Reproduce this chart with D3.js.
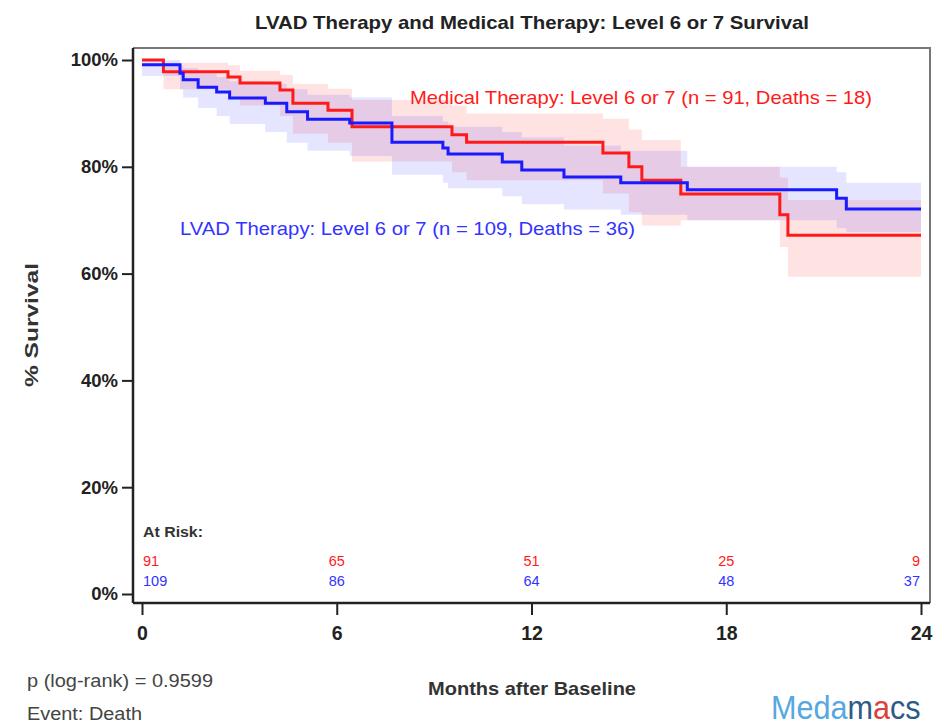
<!DOCTYPE html>
<html>
<head>
<meta charset="utf-8">
<script src="https://cdn.jsdelivr.net/npm/d3@7"></script>
<style>
  html, body { margin: 0; padding: 0; background: #fff; }
  svg { display: block; font-family: "Liberation Sans", Arial, sans-serif; }
</style>
</head>
<body>
<svg id="chart" width="944" height="726"></svg>
<script>
// Kaplan-Meier estimates (months after baseline) with 95% confidence limits
const medTimes  = [0, 0.66, 2.65, 3.02, 4.25, 4.65, 5.73, 6.47, 9.55, 10.0, 14.2, 15.0, 15.4, 16.6, 19.65, 19.9];
const medSurv   = [1.0, 0.978, 0.968, 0.957, 0.944, 0.919, 0.906, 0.875, 0.860, 0.846, 0.826, 0.800, 0.775, 0.749, 0.710, 0.672];
const medLower  = [1.0, 0.945, 0.930, 0.915, 0.895, 0.862, 0.845, 0.810, 0.790, 0.775, 0.750, 0.715, 0.690, 0.700, 0.650, 0.594];
const medUpper  = [1.0, 0.995, 0.990, 0.980, 0.972, 0.955, 0.946, 0.925, 0.915, 0.900, 0.890, 0.870, 0.850, 0.800, 0.780, 0.738];

const lvadTimes = [0, 1.17, 1.27, 1.73, 2.3, 2.7, 3.8, 4.46, 5.1, 6.4, 7.7, 9.27, 9.43, 11.1, 11.7, 13.0, 14.75, 16.8, 21.4, 21.7];
const lvadSurv  = [0.991, 0.975, 0.963, 0.949, 0.940, 0.929, 0.919, 0.903, 0.889, 0.882, 0.846, 0.835, 0.824, 0.809, 0.794, 0.781, 0.770, 0.757, 0.741, 0.721];
const lvadLower = [0.970, 0.945, 0.930, 0.910, 0.895, 0.880, 0.865, 0.845, 0.830, 0.820, 0.785, 0.770, 0.760, 0.745, 0.730, 0.720, 0.710, 0.700, 0.685, 0.678];
const lvadUpper = [1.0, 0.990, 0.985, 0.975, 0.968, 0.960, 0.955, 0.945, 0.935, 0.930, 0.895, 0.885, 0.875, 0.865, 0.855, 0.840, 0.830, 0.800, 0.790, 0.770];

const xTicks = [0, 6, 12, 18, 24];
const yTicks = [0, 0.2, 0.4, 0.6, 0.8, 1.0];
const riskMed  = [91, 65, 51, 25, 9];
const riskLvad = [109, 86, 64, 48, 37];

const titleText = "LVAD Therapy and Medical Therapy: Level 6 or 7 Survival";
const medLabel  = "Medical Therapy: Level 6 or 7 (n = 91, Deaths = 18)";
const lvadLabel = "LVAD Therapy: Level 6 or 7 (n = 109, Deaths = 36)";

const RED = "#ff1a1a", BLUE = "#1a1aff";
const svg = d3.select("#chart");

const x = d3.scaleLinear().domain([0, 24]).range([142, 921]);
const y = d3.scaleLinear().domain([0, 1]).range([594, 60]);
const plotLeft = 133, plotRight = 930, plotTop = 48, plotBottom = 603;

function rows(times, surv, lo, hi) {
  const r = times.map((t, i) => ({ t, s: surv[i], lo: lo[i], hi: hi[i] }));
  const last = r[r.length - 1];
  r.push({ t: 24, s: last.s, lo: last.lo, hi: last.hi });
  return r;
}
const med = rows(medTimes, medSurv, medLower, medUpper);
const lvad = rows(lvadTimes, lvadSurv, lvadLower, lvadUpper);

// frame (top and right edges)
svg.append("path")
  .attr("d", `M${plotLeft},${plotTop}H${plotRight}V${plotBottom}`)
  .attr("fill", "none").attr("stroke", "#777").attr("stroke-width", 2);

// confidence bands
const band = d3.area().curve(d3.curveStepAfter)
  .x(d => x(d.t)).y0(d => y(d.lo)).y1(d => y(d.hi));
svg.append("path").datum(med).attr("d", band).attr("fill", "rgba(255,0,0,0.11)");
svg.append("path").datum(lvad).attr("d", band).attr("fill", "rgba(0,0,255,0.10)");

// survival curves
const step = d3.line().curve(d3.curveStepAfter).x(d => x(d.t)).y(d => y(d.s));
svg.append("path").datum(med).attr("d", step)
  .attr("fill", "none").attr("stroke", RED).attr("stroke-width", 3);
svg.append("path").datum(lvad).attr("d", step)
  .attr("fill", "none").attr("stroke", BLUE).attr("stroke-width", 3);

// y axis
const yAxis = d3.axisLeft(y).tickValues(yTicks).tickFormat(d3.format(".0%")).tickSize(11).tickPadding(4);
const gy = svg.append("g").attr("transform", `translate(${plotLeft},0)`).call(yAxis);
gy.select(".domain").attr("d", `M0,${plotTop}V${plotBottom}`).attr("stroke", "#222").attr("stroke-width", 2.5);
gy.selectAll(".tick line").attr("stroke", "#222").attr("stroke-width", 2);
gy.selectAll(".tick text").attr("font-size", 18.5).attr("font-weight", "bold").attr("fill", "#222")
  .attr("font-family", "Liberation Sans, Arial, sans-serif");

// x axis
const xAxis = d3.axisBottom(x).tickValues(xTicks).tickSize(12).tickPadding(11);
const gx = svg.append("g").attr("transform", `translate(0,${plotBottom})`).call(xAxis);
gx.select(".domain").attr("d", `M${plotLeft},0H${plotRight}`).attr("stroke", "#222").attr("stroke-width", 2.5);
gx.selectAll(".tick line").attr("stroke", "#222").attr("stroke-width", 2);
gx.selectAll(".tick text").attr("font-size", 19.5).attr("font-weight", "bold").attr("fill", "#222")
  .attr("font-family", "Liberation Sans, Arial, sans-serif");

// titles
svg.append("text").attr("x", 532).attr("y", 29).attr("text-anchor", "middle")
  .attr("font-size", 18.5).attr("font-weight", "bold").attr("fill", "#222")
  .attr("textLength", 554).attr("lengthAdjust", "spacingAndGlyphs").text(titleText);
svg.append("text").attr("transform", "translate(38,325) rotate(-90)").attr("text-anchor", "middle")
  .attr("font-size", 18.5).attr("font-weight", "bold").attr("fill", "#333")
  .attr("textLength", 124).attr("lengthAdjust", "spacingAndGlyphs").text("% Survival");
svg.append("text").attr("x", 532).attr("y", 695).attr("text-anchor", "middle")
  .attr("font-size", 18.5).attr("font-weight", "bold").attr("fill", "#333")
  .attr("textLength", 208).attr("lengthAdjust", "spacingAndGlyphs").text("Months after Baseline");

// series labels
svg.append("text").attr("x", 410).attr("y", 104).attr("font-size", 18.5).attr("fill", RED)
  .attr("textLength", 462).attr("lengthAdjust", "spacingAndGlyphs").text(medLabel);
svg.append("text").attr("x", 180).attr("y", 235).attr("font-size", 18.5).attr("fill", "#3333ff")
  .attr("textLength", 455).attr("lengthAdjust", "spacingAndGlyphs").text(lvadLabel);

// numbers at risk
svg.append("text").attr("x", 143).attr("y", 537).attr("font-size", 14).attr("font-weight", "bold")
  .attr("fill", "#333").attr("textLength", 60).attr("lengthAdjust", "spacingAndGlyphs").text("At Risk:");
const anchorFor = i => i === 0 ? "start" : (i === xTicks.length - 1 ? "end" : "middle");
const riskX = (t, i) => i === 0 ? x(t) + 1 : (i === xTicks.length - 1 ? x(t) - 1 : x(t));
svg.append("g").selectAll("text").data(riskMed).join("text")
  .attr("x", (d, i) => riskX(xTicks[i], i)).attr("y", 566)
  .attr("text-anchor", (d, i) => anchorFor(i)).attr("font-size", 14.5).attr("fill", RED).text(d => d);
svg.append("g").selectAll("text").data(riskLvad).join("text")
  .attr("x", (d, i) => riskX(xTicks[i], i)).attr("y", 586)
  .attr("text-anchor", (d, i) => anchorFor(i)).attr("font-size", 14.5).attr("fill", "#3333ff").text(d => d);

// footnotes
svg.append("text").attr("x", 27).attr("y", 687).attr("font-size", 17.5).attr("fill", "#444")
  .attr("textLength", 186).attr("lengthAdjust", "spacingAndGlyphs").text("p (log-rank) = 0.9599");
svg.append("text").attr("x", 27).attr("y", 720).attr("font-size", 17.5).attr("fill", "#444")
  .attr("textLength", 115).attr("lengthAdjust", "spacingAndGlyphs").text("Event: Death");

// logo: one text run, narrowed horizontally by the group transform
const logo = svg.append("g").attr("transform", "translate(771,719) scale(0.9,1)")
  .append("text").attr("x", 0).attr("y", 0).attr("font-size", 34);
logo.append("tspan").attr("fill", "#55a8e0").text("Meda");
logo.append("tspan").attr("fill", "#2d5b86").text("m");
logo.append("tspan").attr("fill", "#d8443a").text("a");
logo.append("tspan").attr("fill", "#2d5b86").text("cs");
</script>
</body>
</html>
